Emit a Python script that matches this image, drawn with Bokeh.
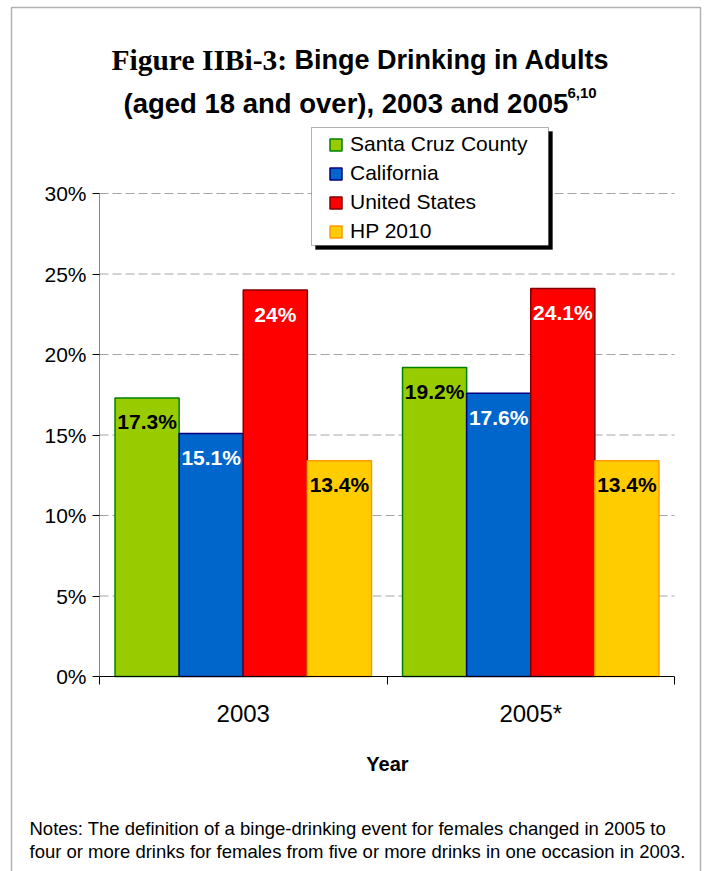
from bokeh.plotting import figure
from bokeh.models import (Range1d, FixedTicker, Label, Legend, LegendItem,
                          BoxAnnotation, ColumnDataSource)
from bokeh.core.properties import value
from bokeh.embed import file_html
from bokeh.resources import INLINE

# ---- data -------------------------------------------------------------
years = ["2003", "2005*"]
series = ["Santa Cruz County", "California", "United States", "HP 2010"]
santa_cruz = [17.3, 19.2]
california = [15.1, 17.6]
united_states = [24.0, 24.1]
hp_2010 = [13.4, 13.4]
y_ticks = [0, 5, 10, 15, 20, 25, 30]

values = [santa_cruz, california, united_states, hp_2010]

# ---- styling ----------------------------------------------------------
fills = ["#99CC00", "#0066CC", "#FF0000", "#FFCC00"]
edges = ["#008000", "#000080", "#800000", "#FF9900"]
label_colors = ["black", "white", "white", "black"]
SANS = "Liberation Sans"
SERIF = "Liberation Serif"

W, H = 709, 871
# where the data area sits on the canvas (px from top-left)
AX_LEFT, AX_RIGHT, AX_TOP, AX_BOTTOM = 99, 674, 193, 676
n_cat = len(years)
y_max = y_ticks[-1]

# the frame covers the whole canvas; the axes are pinned at x=0 / y=0
px_x = (AX_RIGHT - AX_LEFT) / n_cat
px_y = (AX_BOTTOM - AX_TOP) / y_max
x_range = Range1d(-AX_LEFT / px_x, n_cat + (W - AX_RIGHT) / px_x)
y_range = Range1d(-(H - AX_BOTTOM) / px_y, AX_BOTTOM / px_y)

p = figure(width=W, height=H, output_backend="svg", toolbar_location=None,
           x_range=x_range, y_range=y_range,
           min_border=0, min_border_left=0, min_border_right=0,
           min_border_top=0, min_border_bottom=0)
p.outline_line_color = None
p.background_fill_color = "white"
p.border_fill_color = "white"


def sx(x):
    """canvas x -> screen units"""
    return x


def sy(y):
    """canvas y (top-down) -> screen units measured up from the bottom"""
    return H - y


# ---- dashed gridlines (under the bars) ---------------------------------
p.xgrid.visible = False
p.ygrid.visible = False
p.segment(x0=[0] * (len(y_ticks) - 1), x1=[n_cat] * (len(y_ticks) - 1),
          y0=y_ticks[1:], y1=y_ticks[1:],
          line_color="#A6A6A6", line_width=1, line_dash="9 4")

# ---- bars -------------------------------------------------------------
bar_w = 0.223
centers = [i + 0.5 for i in range(n_cat)]
renderers = []
for k, (name, vals) in enumerate(zip(series, values)):
    off = (k - 1.5) * bar_w
    src = ColumnDataSource(dict(
        x=[c + off for c in centers],
        top=vals,
        txt=[f"{v:g}%" for v in vals],
    ))
    r = p.vbar(x="x", top="top", width=bar_w, source=src,
               fill_color=fills[k], line_color=edges[k], line_width=1.5)
    renderers.append(r)
    p.text(x="x", y="top", text="txt", source=src, y_offset=24,
           text_align="center", text_baseline="middle",
           text_font=value(SANS), text_font_style="bold",
           text_font_size="21px", text_color=label_colors[k])

# ---- axes -------------------------------------------------------------
yax = p.yaxis[0]
yax.fixed_location = 0
yax.bounds = (0, y_max)
yax.ticker = FixedTicker(ticks=y_ticks)
yax.major_label_overrides = {t: f"{t}%" for t in y_ticks}
yax.axis_line_color = "#868686"
yax.major_tick_line_color = "black"
yax.major_tick_out = 7
yax.major_tick_in = 0
yax.minor_tick_line_color = None
yax.major_label_text_font = SANS
yax.major_label_text_font_size = "21px"
yax.major_label_text_color = "black"
yax.major_label_standoff = 6

xax = p.xaxis[0]
xax.fixed_location = 0
xax.bounds = (0, n_cat)
xax.ticker = FixedTicker(ticks=centers, minor_ticks=list(range(n_cat + 1)))
xax.major_label_overrides = {c: y for c, y in zip(centers, years)}
xax.axis_line_color = "black"
xax.major_tick_out = 0
xax.major_tick_in = 0
xax.minor_tick_out = 8
xax.minor_tick_in = 0
xax.minor_tick_line_color = "black"
xax.major_label_text_font = SANS
xax.major_label_text_font_size = "24px"
xax.major_label_text_color = "black"
xax.major_label_standoff = 15

# ---- outer frame ------------------------------------------------------
scr = dict(left_units="screen", right_units="screen",
           top_units="screen", bottom_units="screen")
p.add_layout(BoxAnnotation(left=sx(11), right=sx(700), top=sy(7), bottom=sy(885),
                           fill_alpha=0, line_color="black", line_width=1.5, **scr))

# ---- legend -----------------------------------------------------------
p.add_layout(BoxAnnotation(left=sx(315), right=sx(552), top=sy(131), bottom=sy(249),
                           fill_color="black", fill_alpha=1, line_color="black", **scr))
p.add_layout(BoxAnnotation(left=sx(311), right=sx(548), top=sy(127), bottom=sy(245),
                           fill_color="white", fill_alpha=1, line_color="black",
                           line_width=1, **scr))

legend = Legend(items=[LegendItem(label=s, renderers=[r]) for s, r in zip(series, renderers)],
                location=(sx(328), sy(245.5)), padding=0, spacing=0,
                border_line_color=None, background_fill_alpha=0,
                glyph_width=15, glyph_height=15, label_height=29,
                label_standoff=7, label_text_font=SANS,
                label_text_font_size="21px", label_text_color="black")
p.add_layout(legend)


# ---- texts ------------------------------------------------------------
def lab(x, y, text, font=SANS, size="17px", style="normal", align="left"):
    p.add_layout(Label(x=sx(x), y=sy(y), x_units="screen", y_units="screen",
                       text=text, text_font=font, text_font_size=size,
                       text_font_style=style, text_align=align,
                       text_baseline="alphabetic", text_color="black"))


lab(111, 59, "Figure IIBi-3:", font=SERIF, size="29.5px", style="bold")
lab(294, 59, "Binge Drinking in Adults", size="27px", style="bold")
lab(123, 103, "(aged 18 and over), 2003 and 2005", size="27.5px", style="bold")
lab(567, 92, "6,10", size="15px", style="bold")

lab(387, 763, "Year", size="20px", style="bold", align="center")
lab(29, 828, "Notes: The definition of a binge-drinking event for females changed in 2005 to",
    size="18.5px")
lab(29, 851, "four or more drinks for females from five or more drinks in one occasion in 2003.",
    size="18.5px")

open("out.html", "w").write(file_html(p, INLINE))
